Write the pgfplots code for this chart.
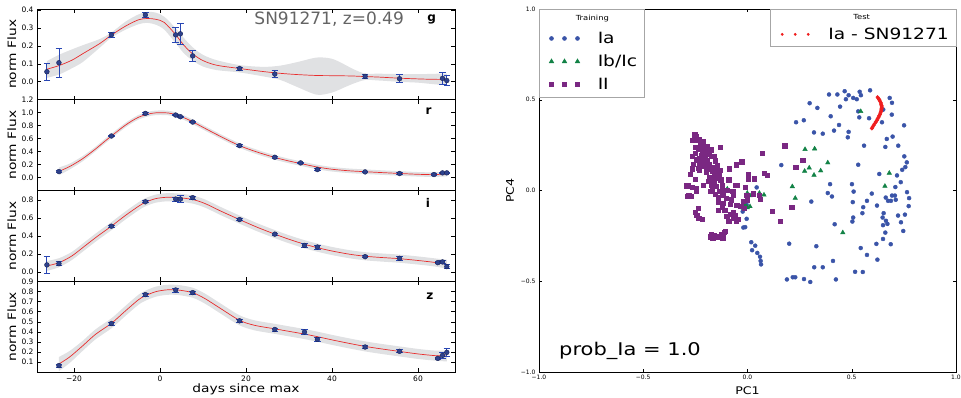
\documentclass[border=0pt]{standalone}
\usepackage{fontspec}
\setmainfont{DejaVu Sans}
\newfontfamily\wide{DejaVu Sans}[FakeStretch=1.2]
\usepackage{pgfplots}
\pgfplotsset{compat=1.18}
\usepackage{pgfplotstable}
\usepgfplotslibrary{fillbetween}

\definecolor{bandgray}{RGB}{224,225,227}
\definecolor{curvered}{RGB}{232,45,45}
\definecolor{ptfill}{RGB}{45,65,140}
\definecolor{ptedge}{RGB}{25,35,85}
\definecolor{errblue}{RGB}{40,70,180}
\definecolor{iablue}{RGB}{58,84,168}
\definecolor{ibgreen}{RGB}{18,130,70}
\definecolor{iipurple}{RGB}{122,40,130}
\definecolor{testred}{RGB}{240,30,30}
\definecolor{sngray}{RGB}{100,100,100}

% ---------- light curve fits: x, mean, lower, upper ----------
\pgfplotstableread{
x m lo hi
-26.3 0.070 0.022 0.115
-23.5 0.090 0.040 0.150
-20.5 0.120 0.075 0.180
-17.9 0.157 0.111 0.204
-14 0.213 0.190 0.238
-11.3 0.260 0.246 0.274
-8 0.310 0.290 0.335
-5 0.345 0.320 0.375
-3 0.352 0.328 0.389
-1 0.348 0.318 0.385
1 0.330 0.290 0.362
3.65 0.262 0.215 0.298
5.5 0.205 0.160 0.245
7.6 0.155 0.118 0.192
10 0.118 0.085 0.150
13.2 0.092 0.065 0.120
18.5 0.074 0.052 0.093
24 0.057 0.030 0.083
28 0.047 0.010 0.090
32 0.040 -0.030 0.110
36.5 0.035 -0.072 0.135
40 0.034 -0.060 0.128
43 0.033 -0.030 0.095
45 0.032 -0.010 0.070
47.7 0.029 0.010 0.046
51 0.026 0.007 0.045
55.7 0.020 0.000 0.043
60 0.016 -0.005 0.042
63 0.014 -0.012 0.044
66.7 0.013 -0.020 0.046
}\gcurve
\pgfplotstableread{
x y e
-26.3 0.056 0.046
-23.5 0.106 0.080
-11.3 0.261 0.012
-3.4 0.372 0.015
3.65 0.261 0.044
4.74 0.267 0.060
7.6 0.144 0.028
18.5 0.074 0.008
26.7 0.043 0.020
47.7 0.030 0.010
55.7 0.017 0.022
65.7 0.019 0.033
66.7 0.007 0.028
}\gdata

\pgfplotstableread{
x m lo hi
-23.5 0.095 0.035 0.155
-21 0.170 0.125 0.215
-18 0.290 0.250 0.330
-15 0.440 0.405 0.475
-13 0.550 0.515 0.585
-11.3 0.640 0.605 0.675
-8 0.810 0.775 0.845
-5 0.930 0.895 0.965
-2 0.990 0.955 1.025
0 1.000 0.965 1.035
2 0.995 0.960 1.030
3.65 0.970 0.935 1.005
5.5 0.925 0.890 0.960
7.6 0.860 0.825 0.895
11 0.740 0.705 0.775
14.5 0.620 0.585 0.655
18.5 0.492 0.457 0.527
22.5 0.395 0.360 0.430
26.7 0.310 0.275 0.345
30 0.255 0.220 0.290
33 0.212 0.177 0.247
36.6 0.162 0.127 0.197
40 0.128 0.093 0.163
44 0.104 0.069 0.139
47.7 0.090 0.055 0.125
52 0.075 0.040 0.110
55.7 0.063 0.028 0.098
60 0.050 0.015 0.085
63.7 0.045 0.010 0.080
66.7 0.058 0.018 0.098
}\rcurve
\pgfplotstableread{
x y e
-23.5 0.092 0.012
-11.3 0.641 0.012
-3.4 0.990 0.012
3.65 0.964 0.012
4.74 0.938 0.012
7.6 0.856 0.012
18.5 0.492 0.012
26.7 0.313 0.012
32.7 0.226 0.012
36.6 0.123 0.012
47.7 0.087 0.012
55.7 0.062 0.012
63.7 0.046 0.012
65.7 0.072 0.012
66.7 0.072 0.012
}\rdata

\pgfplotstableread{
x m lo hi
-26.3 0.070 0.015 0.125
-23.5 0.105 0.055 0.155
-20.5 0.180 0.135 0.225
-17.5 0.290 0.245 0.335
-14.5 0.400 0.355 0.445
-11.3 0.510 0.465 0.555
-8 0.630 0.585 0.675
-5 0.730 0.685 0.775
-3.4 0.775 0.730 0.820
-1 0.815 0.770 0.860
1.5 0.830 0.785 0.875
4 0.828 0.783 0.873
7.6 0.805 0.760 0.850
10.5 0.760 0.715 0.805
14 0.680 0.635 0.725
18.5 0.583 0.538 0.628
22.5 0.500 0.455 0.545
26.7 0.422 0.377 0.467
30 0.365 0.320 0.410
33.6 0.310 0.265 0.355
36.6 0.272 0.227 0.317
40 0.235 0.190 0.280
44 0.200 0.155 0.245
47.7 0.177 0.132 0.222
51.5 0.163 0.118 0.208
55.7 0.150 0.105 0.195
60 0.130 0.085 0.175
64 0.108 0.063 0.153
66.7 0.088 0.038 0.138
}\icurve
\pgfplotstableread{
x y e
-26.3 0.081 0.090
-23.5 0.095 0.022
-11.3 0.510 0.010
-3.4 0.780 0.012
3.65 0.810 0.022
4.74 0.810 0.040
7.6 0.826 0.015
18.5 0.583 0.008
26.7 0.422 0.012
33.6 0.297 0.020
36.6 0.279 0.022
47.7 0.172 0.010
55.7 0.154 0.020
64.6 0.106 0.010
65.7 0.114 0.020
66.7 0.062 0.020
}\idata

\pgfplotstableread{
x m lo hi
-23.5 0.080 0.010 0.150
-21 0.150 0.090 0.210
-18 0.260 0.210 0.310
-15 0.375 0.325 0.425
-11.3 0.485 0.435 0.535
-8 0.610 0.560 0.660
-5 0.720 0.670 0.770
-3.4 0.760 0.710 0.810
-1 0.800 0.750 0.850
1.5 0.818 0.768 0.868
4 0.818 0.768 0.868
7.6 0.790 0.740 0.840
10.5 0.730 0.680 0.780
14 0.635 0.585 0.685
18.5 0.515 0.465 0.565
22 0.465 0.415 0.515
26.7 0.430 0.380 0.480
30 0.405 0.355 0.455
33.6 0.378 0.328 0.428
36.6 0.352 0.302 0.402
40 0.320 0.270 0.370
44 0.285 0.235 0.335
47.7 0.255 0.205 0.305
51.5 0.230 0.180 0.280
55.7 0.205 0.155 0.255
60 0.180 0.130 0.230
64 0.163 0.113 0.213
66.7 0.160 0.105 0.215
}\zcurve
\pgfplotstableread{
x y e
-23.5 0.064 0.015
-11.3 0.483 0.015
-3.4 0.771 0.015
3.65 0.817 0.020
7.6 0.791 0.015
18.5 0.510 0.012
26.7 0.424 0.015
33.6 0.398 0.022
36.6 0.325 0.018
47.7 0.249 0.015
55.7 0.206 0.015
64.6 0.136 0.010
65.7 0.166 0.030
66.7 0.196 0.040
}\zdata

% ---------- PCA scatter ----------
\pgfplotstableread{
x y
0.391 0.529
0.298 0.481
0.335 0.455
0.399 0.409
0.270 0.387
0.233 0.376
0.319 0.320
0.361 0.313
0.415 0.330
0.162 0.140
0.396 0.035
0.466 0.547
0.431 0.529
0.485 0.525
0.507 0.510
0.524 0.503
0.538 0.544
0.544 0.525
0.588 0.552
0.472 0.503
0.444 0.462
0.682 0.510
0.693 0.483
0.651 0.446
0.531 0.436
0.536 0.403
0.583 0.398
0.692 0.418
0.645 0.376
0.439 0.361
0.485 0.323
0.481 0.293
0.751 0.359
0.696 0.297
0.668 0.284
0.723 0.247
0.661 0.240
0.559 0.247
0.752 0.188
0.764 0.155
0.757 0.129
0.742 0.114
0.531 0.142
0.632 0.091
0.717 0.083
0.735 0.046
0.501 0.035
0.044 0.017
-0.023 -0.116
-0.004 -0.156
-0.020 -0.204
-0.011 -0.202
0.306 -0.061
0.385 -0.014
0.405 -0.033
0.200 -0.293
0.330 -0.307
0.018 -0.285
0.037 -0.304
0.022 -0.329
0.047 -0.344
0.060 -0.365
0.063 -0.388
0.065 -0.407
0.410 -0.388
0.320 -0.423
0.361 -0.423
0.217 -0.478
0.229 -0.478
0.189 -0.490
0.271 -0.488
0.301 -0.504
0.418 -0.186
0.709 0.019
0.509 -0.006
0.596 -0.017
0.765 -0.009
0.573 -0.057
0.663 -0.039
0.693 -0.028
0.707 -0.028
0.674 -0.057
0.688 -0.057
0.711 -0.051
0.775 -0.042
0.505 -0.064
0.555 -0.092
0.621 -0.083
0.773 -0.086
0.551 -0.125
0.653 -0.125
0.755 -0.133
0.722 -0.138
0.648 -0.149
0.507 -0.149
0.503 -0.171
0.664 -0.167
0.671 -0.184
0.736 -0.175
0.650 -0.191
0.661 -0.232
0.747 -0.223
0.650 -0.267
0.618 -0.294
0.687 -0.296
0.543 -0.317
0.573 -0.355
0.623 -0.381
0.516 -0.448
0.553 -0.449
0.424 -0.490
-0.004 -0.079
-0.012 -0.088
}\iadata

\pgfplotstableread{
x y
0.276 0.227
0.322 0.230
0.385 0.153
0.296 0.125
0.274 0.107
0.351 0.109
0.319 0.085
0.543 0.436
0.680 0.096
0.215 0.022
0.229 -0.042
0.659 0.024
0.457 -0.232
-0.097 0.009
-0.001 -0.014
0.012 -0.028
0.025 -0.024
0.057 -0.014
0.079 -0.024
-0.011 -0.079
0.012 -0.088
-0.001 -0.094
-0.020 -0.097
}\ibdata

\pgfplotstableread{
x y
-0.253 0.308
-0.250 0.290
-0.234 0.280
-0.263 0.275
-0.212 0.271
-0.228 0.252
-0.196 0.243
-0.132 0.238
-0.237 0.230
-0.212 0.219
-0.186 0.215
-0.250 0.207
-0.266 0.188
-0.224 0.193
-0.202 0.193
-0.176 0.188
-0.161 0.188
-0.244 0.170
-0.222 0.164
-0.196 0.164
-0.154 0.164
-0.026 0.160
-0.260 0.146
-0.231 0.138
-0.212 0.133
-0.183 0.146
-0.055 0.142
-0.266 0.120
-0.237 0.124
-0.196 0.120
-0.148 0.120
-0.132 0.114
-0.087 0.120
-0.167 0.105
-0.276 0.091
-0.138 0.096
-0.148 0.077
-0.174 0.069
-0.252 0.063
-0.189 0.050
-0.164 0.046
-0.129 0.059
-0.090 0.059
-0.212 0.031
-0.176 0.031
-0.151 0.022
-0.122 0.031
-0.059 0.031
-0.052 0.028
-0.285 0.028
-0.247 0.013
-0.266 0.017
-0.170 0.009
-0.135 -0.002
-0.116 -0.006
-0.071 -0.006
-0.011 0.017
-0.282 -0.028
-0.270 -0.033
-0.247 -0.006
-0.180 -0.006
-0.154 -0.020
-0.119 -0.024
-0.068 -0.028
-0.103 -0.042
-0.078 -0.051
-0.004 -0.024
0.028 -0.018
0.057 -0.024
-0.020 -0.057
-0.001 -0.051
0.060 -0.046
-0.141 -0.064
-0.116 -0.070
-0.084 -0.075
-0.052 -0.079
-0.033 -0.085
-0.017 -0.097
-0.109 -0.108
-0.068 -0.119
-0.237 -0.097
-0.250 -0.119
-0.244 -0.134
-0.084 -0.130
-0.059 -0.134
-0.068 -0.152
-0.046 -0.158
-0.234 -0.152
-0.218 -0.158
-0.090 -0.167
-0.055 -0.171
-0.176 -0.241
-0.161 -0.249
-0.148 -0.254
-0.135 -0.254
-0.124 -0.241
-0.113 -0.230
-0.106 -0.223
-0.167 -0.263
-0.119 -0.260
-0.180 -0.254
-0.292 0.026
-0.289 -0.033
0.178 0.247
0.070 0.204
-0.028 0.159
0.265 0.166
0.231 0.129
0.002 0.092
0.079 0.094
0.095 0.083
0.004 0.065
0.031 0.065
0.118 -0.112
0.156 -0.167
0.212 -0.090
-0.245 0.300
-0.220 0.260
-0.205 0.230
-0.190 0.200
-0.230 0.180
-0.210 0.150
-0.170 0.130
-0.160 0.090
-0.200 0.100
-0.185 0.075
-0.145 0.140
-0.230 0.110
-0.250 0.240
-0.215 0.205
-0.175 0.225
-0.160 0.050
-0.135 0.070
-0.120 0.010
-0.100 0.000
-0.140 -0.040
-0.120 -0.090
-0.100 -0.140
-0.140 -0.110
}\iidata

\pgfplotstableread{
x y
0.624 0.514
0.628 0.507
0.632 0.500
0.636 0.492
0.639 0.484
0.641 0.476
0.643 0.468
0.644 0.460
0.643 0.452
0.642 0.444
0.640 0.436
0.638 0.428
0.635 0.420
0.632 0.412
0.628 0.403
0.624 0.395
0.620 0.386
0.615 0.377
0.610 0.368
0.605 0.359
0.600 0.350
0.596 0.342
}\testdata

\tikzset{letter/.style={font=\fontsize{12}{13}\selectfont\bfseries}}

\pgfplotsset{
 lc/.style={
  scale only axis, width=418pt, height=90.75pt,
  xmin=-28.6, xmax=68.6,
  xtick={-20,0,20,40,60},
  xticklabels={},
  tick align=inside, tick pos=both,
  major tick length=4pt,
  axis line style={line width=0.7pt, black},
  every tick/.style={line width=0.6pt, black},
  tick label style={font=\fontsize{7.5}{9}\selectfont},
  ylabel={norm Flux},
  every axis y label/.style={at={(axis description cs:-0.06,0.5)}, rotate=90, anchor=center, font=\wide\fontsize{11.5}{13}\selectfont},
 },
 band/.style={fill=bandgray, draw=none},
 gp/.style={curvered, line width=0.7pt, smooth},
 pts/.style={only marks, mark=*, mark size=2.4pt,
   mark options={fill=ptfill, draw=ptedge, line width=0.4pt},
   error bars/y dir=both, error bars/y explicit,
   error bars/error bar style={errblue, line width=0.8pt},
   error bars/error mark options={errblue, mark size=3.2pt, line width=0.8pt, rotate=90}},
 threemarks/.style={legend image code/.code={\path (-7pt,0pt) (44pt,0pt); \draw[##1] plot coordinates {(0pt,0pt) (13pt,0pt) (26pt,0pt)};}},
 threemarkssmall/.style={legend image code/.code={\path (-7pt,0pt) (44pt,0pt); \draw[##1, mark size=1.1pt] plot coordinates {(0pt,0pt) (13pt,0pt) (26pt,0pt)};}},
 pcaxis/.style={scale only axis, width=417pt, height=363pt, at={(539pt,-9pt)}, anchor=north west,
   xmin=-1, xmax=1, ymin=-1, ymax=1},
}

\begin{document}
\begin{tikzpicture}

% ---- g ----
\begin{axis}[lc, at={(37pt,-9pt)}, anchor=north west, ymin=-0.1, ymax=0.405,
  ytick={0,0.1,0.2,0.3,0.4}, yticklabels={0.0,0.1,0.2,0.3,0.4}]
\addplot[draw=none, smooth, name path=gh] table[x=x,y=hi]{\gcurve};
\addplot[draw=none, smooth, name path=gl] table[x=x,y=lo]{\gcurve};
\addplot[band] fill between[of=gh and gl];
\addplot[gp] table[x=x,y=m]{\gcurve};
\addplot[pts] table[x=x,y=y,y error=e]{\gdata};
\node[font=\fontsize{17}{19}\selectfont, text=sngray] at (rel axis cs:0.699,0.89) {SN91271, z=0.49};
\node[letter] at (rel axis cs:0.944,0.88) {g};
\end{axis}

% ---- r ----
\begin{axis}[lc, at={(37pt,-99.75pt)}, anchor=north west, ymin=-0.2, ymax=1.2,
  ytick={0,0.2,0.4,0.6,0.8,1.0,1.2}, yticklabels={0.0,0.2,0.4,0.6,0.8,1.0,1.2}]
\addplot[draw=none, smooth, name path=rh] table[x=x,y=hi]{\rcurve};
\addplot[draw=none, smooth, name path=rl] table[x=x,y=lo]{\rcurve};
\addplot[band] fill between[of=rh and rl];
\addplot[gp] table[x=x,y=m]{\rcurve};
\addplot[pts] table[x=x,y=y,y error=e]{\rdata};
\node[letter] at (rel axis cs:0.937,0.87) {r};
\end{axis}

% ---- i ----
\begin{axis}[lc, at={(37pt,-190.5pt)}, anchor=north west, ymin=-0.1, ymax=0.905,
  ytick={0,0.2,0.4,0.6,0.8}, yticklabels={0.0,0.2,0.4,0.6,0.8}]
\addplot[draw=none, smooth, name path=ih] table[x=x,y=hi]{\icurve};
\addplot[draw=none, smooth, name path=il] table[x=x,y=lo]{\icurve};
\addplot[band] fill between[of=ih and il];
\addplot[gp] table[x=x,y=m]{\icurve};
\addplot[pts] table[x=x,y=y,y error=e]{\idata};
\node[letter] at (rel axis cs:0.935,0.86) {i};
\end{axis}

% ---- z ----
\begin{axis}[lc, at={(37pt,-281.25pt)}, anchor=north west, ymin=0.0, ymax=0.904,
  ytick={0.1,0.2,0.3,0.4,0.5,0.6,0.7,0.8,0.9}, yticklabels={0.1,0.2,0.3,0.4,0.5,0.6,0.7,0.8,0.9},
  xticklabels={−20,0,20,40,60},
  xlabel={days since max},
  xlabel style={font=\wide\fontsize{11.5}{13}\selectfont, at={(axis description cs:0.5,0)}, anchor=center, yshift=-17pt}]
\addplot[draw=none, smooth, name path=zh] table[x=x,y=hi]{\zcurve};
\addplot[draw=none, smooth, name path=zl] table[x=x,y=lo]{\zcurve};
\addplot[band] fill between[of=zh and zl];
\addplot[gp] table[x=x,y=m]{\zcurve};
\addplot[pts] table[x=x,y=y,y error=e]{\zdata};
\node[letter] at (rel axis cs:0.94,0.84) {z};
\end{axis}

% ---- PCA scatter ----
\begin{axis}[pcaxis,
  xtick={-1,-0.5,0,0.5,1}, xticklabels={−1.0,−0.5,0.0,0.5,1.0},
  ytick={-1,-0.5,0,0.5,1}, yticklabels={−1.0,−0.5,0.0,0.5,1.0},
  tick label style={font=\fontsize{6}{7}\selectfont},
  tick align=inside, tick pos=both, major tick length=3pt,
  axis line style={line width=0.7pt, black},
  every tick/.style={line width=0.5pt, black},
  xlabel={PC1}, ylabel={PC4},
  label style={font=\wide\fontsize{10.5}{12}\selectfont},
  legend style={at={(0,1)}, anchor=north west, draw=gray!70, line width=0.5pt, fill=white,
    font=\wide\fontsize{15.5}{17}\selectfont, row sep=6pt, inner xsep=5pt, inner ysep=4pt},
  legend cell align=left]
\addlegendimage{empty legend}
\addlegendentry{\fontsize{7}{8}\selectfont\hspace{-22pt}Training}
\addplot[only marks, mark=*, mark size=2pt, color=iablue, threemarks] table {\iadata};
\addlegendentry{Ia}
\addplot[only marks, mark=triangle*, mark size=2.6pt, color=ibgreen, threemarks] table {\ibdata};
\addlegendentry{Ib/Ic}
\addplot[only marks, mark=square*, mark size=2.1pt, color=iipurple, threemarks] table {\iidata};
\addlegendentry{II}
\node[anchor=base west, font=\wide\fontsize{17.5}{19}\selectfont] at (axis cs:-0.92,-0.908) {prob\_Ia = 1.0};
\end{axis}

% ---- test overlay ----
\begin{axis}[pcaxis, hide axis,
  legend style={at={(1,1)}, anchor=north east, draw=gray!70, line width=0.5pt, fill=white,
    font=\wide\fontsize{15.5}{17}\selectfont, row sep=3pt, inner xsep=5pt, inner ysep=3pt},
  legend cell align=left]
\addlegendimage{empty legend}
\addlegendentry{\fontsize{7}{8}\selectfont\hspace{25pt}Test}
\addplot[only marks, mark=*, mark size=1.8pt, color=testred, threemarkssmall] table {\testdata};
\addlegendentry{Ia - SN91271}
\end{axis}

\pgfresetboundingbox
\useasboundingbox (0pt,0pt) rectangle (961pt,-397pt);
\end{tikzpicture}
\end{document}
